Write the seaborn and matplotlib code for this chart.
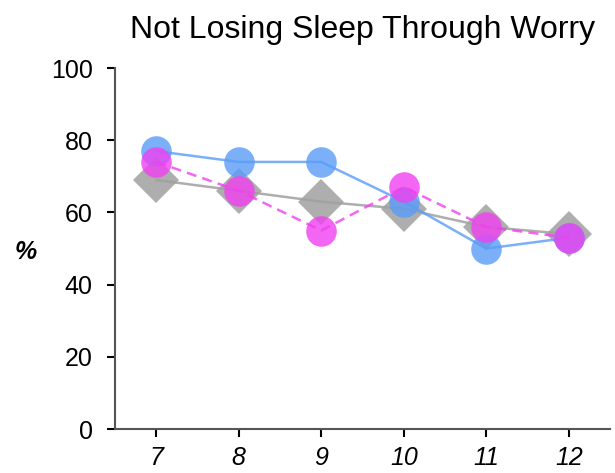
import numpy as np
import pandas as pd
import matplotlib
matplotlib.use('Agg')
import matplotlib.pyplot as plt
import seaborn as sns

years = [7, 8, 9, 10, 11, 12]
grey_vals = [69, 66, 63, 61, 56, 54]
blue_vals = [77, 74, 74, 63, 50, 53]
pink_vals = [74, 66, 55, 67, 56, 53]

sns.set_style('ticks')
plt.rcParams['font.family'] = ['Liberation Sans', 'DejaVu Sans']
plt.rcParams['text.color'] = 'black'

fig = plt.figure(figsize=(6.15, 4.73), dpi=100)
ax = fig.add_axes([0.187, 0.093, 0.805, 0.763])

# grey diamonds first, then blue, then pink on top
sns.lineplot(x=years, y=grey_vals, ax=ax, color='#a0a0a0', linewidth=1.8,
             marker='D', markersize=23, markeredgewidth=0, alpha=0.85)
sns.lineplot(x=years, y=blue_vals, ax=ax, color='#5a9cf8', linewidth=1.8,
             marker='o', markersize=22, markeredgewidth=0, alpha=0.8)
line = sns.lineplot(x=years, y=pink_vals, ax=ax, color='#f040f0', linewidth=1.8,
                    marker='o', markersize=22, markeredgewidth=0, alpha=0.8)
ax.lines[-1].set_dashes((4, 2.5))

ax.set_xlim(6.5, 12.5)
ax.set_ylim(0, 100)
ax.set_xticks(years)
ax.set_xticklabels([str(y) for y in years], fontstyle='italic', fontsize=18)
ax.set_yticks([0, 20, 40, 60, 80, 100])
ax.set_yticklabels(['0', '20', '40', '60', '80', '100'], fontsize=18)
ax.tick_params(axis='both', length=6, width=1.5, color='black', labelcolor='black')
ax.tick_params(axis='x', pad=6)
ax.tick_params(axis='y', pad=10)

for side in ['top', 'right']:
    ax.spines[side].set_visible(False)
for side in ['left', 'bottom']:
    ax.spines[side].set_color('#555555')
    ax.spines[side].set_linewidth(1.5)

ax.set_ylabel('%', rotation=0, fontsize=18, fontstyle='italic', fontweight='bold',
              color='black', va='center', ha='center')
ax.yaxis.set_label_coords(-0.18, 0.49)
ax.set_title('Not Losing Sleep Through Worry', fontsize=23, pad=22, color='black')

fig.savefig('out.png', dpi=100)
